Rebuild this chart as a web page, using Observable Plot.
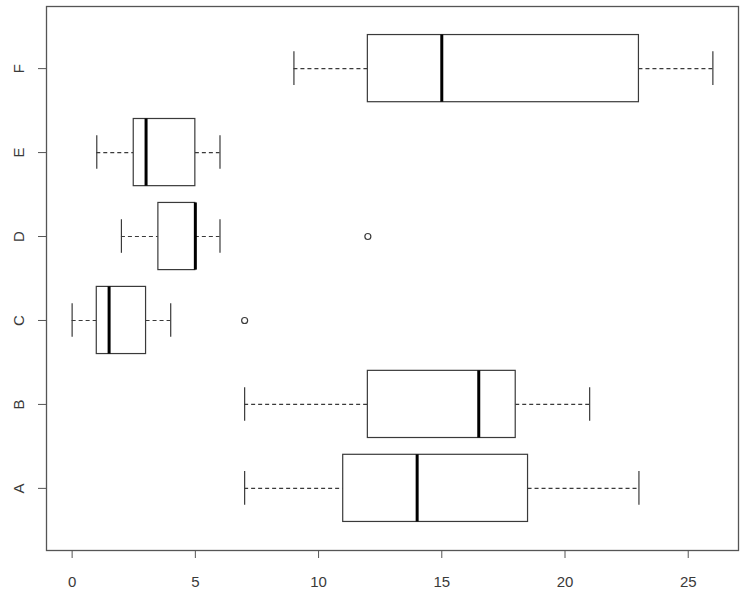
<!DOCTYPE html>
<html>
<head>
<meta charset="utf-8">
<script src="https://cdn.jsdelivr.net/npm/d3@7"></script>
<script src="https://cdn.jsdelivr.net/npm/@observablehq/plot@0.6"></script>
<style>
html, body { margin: 0; padding: 0; background: #fff; }
svg { display: block; }
</style>
</head>
<body>
<div id="chart"></div>
<script>
const categories = ["A", "B", "C", "D", "E", "F"];
const whiskerLow = [7, 7, 0, 2, 1, 9];
const hingeLow = [11, 12, 1, 3.5, 2.5, 12];
const medians = [14, 16.5, 1.5, 5, 3, 15];
const hingeHigh = [18.5, 18, 3, 5, 5, 23];
const whiskerHigh = [23, 21, 4, 6, 6, 26];
const outlierGroups = ["C", "D"];
const outlierValues = [7, 12];
const xTicks = [0, 5, 10, 15, 20, 25];

const boxes = categories.map((c, i) => ({
  cat: c, pos: i + 1,
  wlo: whiskerLow[i], q1: hingeLow[i], med: medians[i], q3: hingeHigh[i], whi: whiskerHigh[i]
}));
const outliers = outlierGroups.map((c, i) => ({ pos: categories.indexOf(c) + 1, value: outlierValues[i] }));

const boxHalf = 0.4, capHalf = 0.2;
const ink = "#555";
const line = "#3a3a3a";

const chart = Plot.plot({
  width: 742,
  height: 597,
  marginLeft: 46,
  marginRight: 4,
  marginTop: 6,
  marginBottom: 47,
  style: { fontFamily: "Liberation Sans, Arial, sans-serif", fontSize: "15px", color: "#3a3a3a", background: "#fff" },
  x: { domain: [-1.04, 27.04] },
  y: { domain: [0.26, 6.74] },
  marks: [
    // whiskers (dashed)
    Plot.ruleY(boxes, { y: "pos", x1: "wlo", x2: "q1", stroke: line, strokeDasharray: "4,3", strokeWidth: 1.2 }),
    Plot.ruleY(boxes, { y: "pos", x1: "q3", x2: "whi", stroke: line, strokeDasharray: "4,3", strokeWidth: 1.2 }),
    // caps
    Plot.ruleX(boxes, { x: "wlo", y1: d => d.pos - capHalf, y2: d => d.pos + capHalf, stroke: line, strokeWidth: 1.2 }),
    Plot.ruleX(boxes, { x: "whi", y1: d => d.pos - capHalf, y2: d => d.pos + capHalf, stroke: line, strokeWidth: 1.2 }),
    // boxes
    Plot.rect(boxes, { x1: "q1", x2: "q3", y1: d => d.pos - boxHalf, y2: d => d.pos + boxHalf, fill: "white", stroke: line, strokeWidth: 1.2 }),
    // medians
    Plot.ruleX(boxes, { x: "med", y1: d => d.pos - boxHalf, y2: d => d.pos + boxHalf, stroke: "#000", strokeWidth: 3 }),
    // outliers
    Plot.dot(outliers, { x: "value", y: "pos", r: 3, stroke: line, fill: "none", strokeWidth: 1.2 }),
    Plot.frame({ stroke: ink, strokeWidth: 1.3 }),
    Plot.axisX({ ticks: xTicks, tickSize: 8, tickPadding: 18, label: null, stroke: ink, fill: "#3a3a3a" }),
    Plot.axisY({ ticks: [1, 2, 3, 4, 5, 6], tickFormat: d => categories[d - 1], tickSize: 8, tickPadding: 15, tickRotate: -90, label: null, stroke: ink, fill: "#3a3a3a" })
  ]
});
document.getElementById("chart").appendChild(chart);
</script>
</body>
</html>
